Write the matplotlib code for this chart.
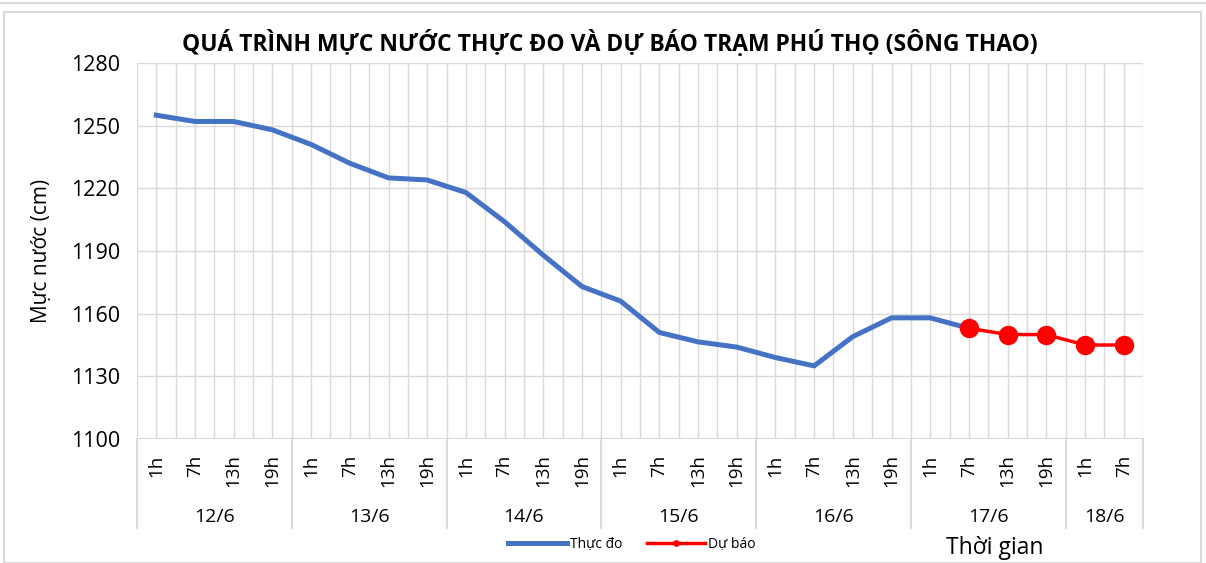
import numpy as np
import matplotlib
matplotlib.use("Agg")
import matplotlib.pyplot as plt
import matplotlib.transforms as mtransforms
from matplotlib.patches import Rectangle

# --- data ---
ngay = ["12/6", "13/6", "14/6", "15/6", "16/6", "17/6", "18/6"]
so_gio_moi_ngay = [4, 4, 4, 4, 4, 4, 2]
gio = ["1h", "7h", "13h", "19h"] * 6 + ["1h", "7h"]

thuc_do = [1255, 1252, 1252, 1248,
           1241, 1232, 1225, 1224,
           1218, 1204, 1188, 1173,
           1166, 1151, 1146.5, 1144,
           1139, 1135, 1149, 1158,
           1158, 1153]
du_bao = [1153, 1150, 1150, 1145, 1145]
du_bao_start = 21  # 17/6 7h

plt.rcParams['font.family'] = ['Open Sans', 'DejaVu Sans']

fig = plt.figure(figsize=(12.06, 5.63), dpi=100)
W, H = 1206, 563
ax = fig.add_axes([137 / W, 1 - 439 / H, (1143 - 137) / W, (439 - 63) / H])

n = len(gio)
x = np.arange(n)

# gridlines: vertical at every half step (centers + boundaries)
for xv in np.arange(-0.5, n, 0.5):
    ax.axvline(xv, color='#D9D9D9', lw=1, zorder=0)
for yv in range(1100, 1281, 30):
    ax.axhline(yv, color='#D9D9D9', lw=1, zorder=0)

ax.plot(x[:len(thuc_do)], thuc_do, color='#4472C4', lw=3.6,
        solid_joinstyle='round', zorder=3, label='Thực đo')
x_db = x[du_bao_start:du_bao_start + len(du_bao)]
ax.plot(x_db, du_bao, color='#FF0000', lw=2.5, marker='o', ms=13,
        zorder=4, label='Dự báo')

ax.set_xlim(-0.5, n - 0.5)
ax.set_ylim(1100, 1280)
ax.set_yticks(range(1100, 1281, 30))
ax.tick_params(axis='y', length=0, labelsize=15.5, pad=12, colors='#000000')
ax.set_xticks(x)
ax.set_xticklabels(gio, rotation=90, fontsize=13.5)
ax.tick_params(axis='x', length=0, pad=11)
for s in ax.spines.values():
    s.set_visible(False)
ax.axhline(1100, color='#D9D9D9', lw=1.5, zorder=1)

# day group labels and separators
trans = mtransforms.blended_transform_factory(ax.transData, ax.transAxes)
sep_bottom = -(528 - 439) / (439 - 63)
pos = -0.5
bounds = [pos]
for nd, d in zip(so_gio_moi_ngay, ngay):
    ax.text(pos + nd / 2, -(517 - 439) / (439 - 63), d, transform=trans,
            ha='center', va='center', fontsize=14)
    pos += nd
    bounds.append(pos)
for b in bounds:
    ax.plot([b, b], [0, sep_bottom], transform=trans, color='#D9D9D9',
            lw=1.5, clip_on=False)

ax.set_ylabel('Mực nước (cm)', fontsize=15, labelpad=14)
fig.text(610 / W, 1 - 43 / H,
         'QUÁ TRÌNH MỰC NƯỚC THỰC ĐO VÀ DỰ BÁO TRẠM PHÚ THỌ (SÔNG THAO)',
         ha='center', va='center', fontsize=16.5, fontweight='bold')
fig.text(995 / W, 1 - 548 / H, 'Thời gian', ha='center', va='center', fontsize=16.5)

fig.legend(loc='center', bbox_to_anchor=(632 / W, 1 - 544 / H), ncol=2,
           frameon=False, fontsize=10, handlelength=4.2, columnspacing=1.8,
           handletextpad=0.2, markerscale=0.3)

# outer chart frame like the screenshot
fig.patches.append(Rectangle((4 / W, 0), (1201 - 4) / W, 1 - 12 / H,
                             transform=fig.transFigure, fill=False,
                             edgecolor='#D9D9D9', lw=1.5))
fig.add_artist(plt.Line2D([0, 1], [1 - 3 / H, 1 - 3 / H], color='#D9D9D9',
                          lw=1.5, transform=fig.transFigure))

fig.savefig('out.png', dpi=100)
